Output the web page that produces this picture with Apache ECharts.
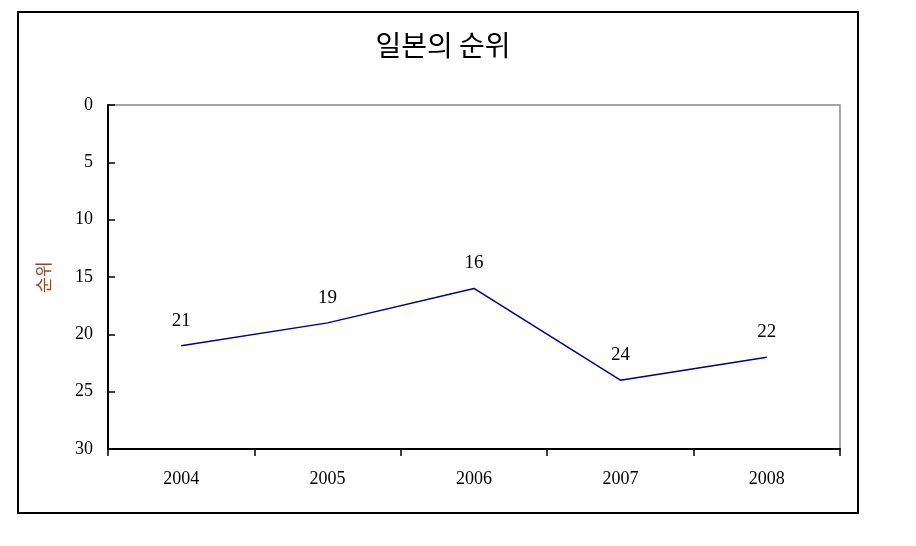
<!DOCTYPE html>
<html>
<head>
<meta charset="utf-8">
<script src="https://cdn.jsdelivr.net/npm/echarts@6/dist/echarts.min.js"></script>
<style>
  html, body { margin: 0; padding: 0; background: #fff; }
</style>
</head>
<body>
<div id="main" style="width: 916px;height: 546px"></div>
<script>
  // 일본의 순위 data
  const years = ['2004', '2005', '2006', '2007', '2008']
  const ranks = [21, 19, 16, 24, 22]

  const serif = '"Liberation Serif", "DejaVu Serif", serif'
  const kr = '"Noto Sans CJK KR", sans-serif'

  const chart = echarts.init(document.getElementById('main'))
  chart.setOption({
    animation: false,
    backgroundColor: '#fff',
    title: {
      text: '일본의 순위',
      left: 438,
      top: 26,
      textAlign: 'center',
      textStyle: { fontFamily: kr, fontSize: 28, fontWeight: 'normal', color: '#000' }
    },
    graphic: [
      {
        type: 'rect',
        shape: { x: 18, y: 12, width: 840, height: 501 },
        style: { fill: null, stroke: '#000', lineWidth: 2 },
        z: -1
      }
    ],
    grid: {
      left: 108,
      top: 105,
      right: 76,
      bottom: 97,
      show: true,
      borderColor: '#888',
      borderWidth: 1.5
    },
    xAxis: {
      type: 'category',
      data: years,
      position: 'bottom',
      boundaryGap: true,
      axisLine: { onZero: false, lineStyle: { color: '#000', width: 2 } },
      axisTick: { show: true, length: 7, lineStyle: { color: '#000', width: 1.5 } },
      axisLabel: { margin: 21, fontFamily: serif, fontSize: 18, color: '#000' },
      splitLine: { show: false }
    },
    yAxis: {
      type: 'value',
      inverse: true,
      min: 0,
      max: 30,
      interval: 5,
      name: '순위',
      nameLocation: 'middle',
      nameGap: 56,
      nameRotate: 90,
      nameTextStyle: { fontFamily: kr, fontSize: 17, color: '#8B4A2B' },
      axisLine: { show: true, lineStyle: { color: '#000', width: 2 } },
      axisTick: { show: true, inside: true, length: 7, lineStyle: { color: '#000', width: 1.5 } },
      axisLabel: { margin: 15, padding: [4, 0, 0, 0], fontFamily: serif, fontSize: 18, color: '#000' },
      splitLine: { show: false }
    },
    series: [
      {
        type: 'line',
        data: ranks,
        symbol: 'circle',
        symbolSize: 1,
        itemStyle: { color: 'rgba(0,0,0,0)' },
        lineStyle: { color: '#000080', width: 1.5 },
        label: {
          show: true,
          position: 'top',
          distance: 15,
          fontFamily: serif,
          fontSize: 19,
          color: '#000'
        }
      }
    ]
  })
</script>
</body>
</html>
